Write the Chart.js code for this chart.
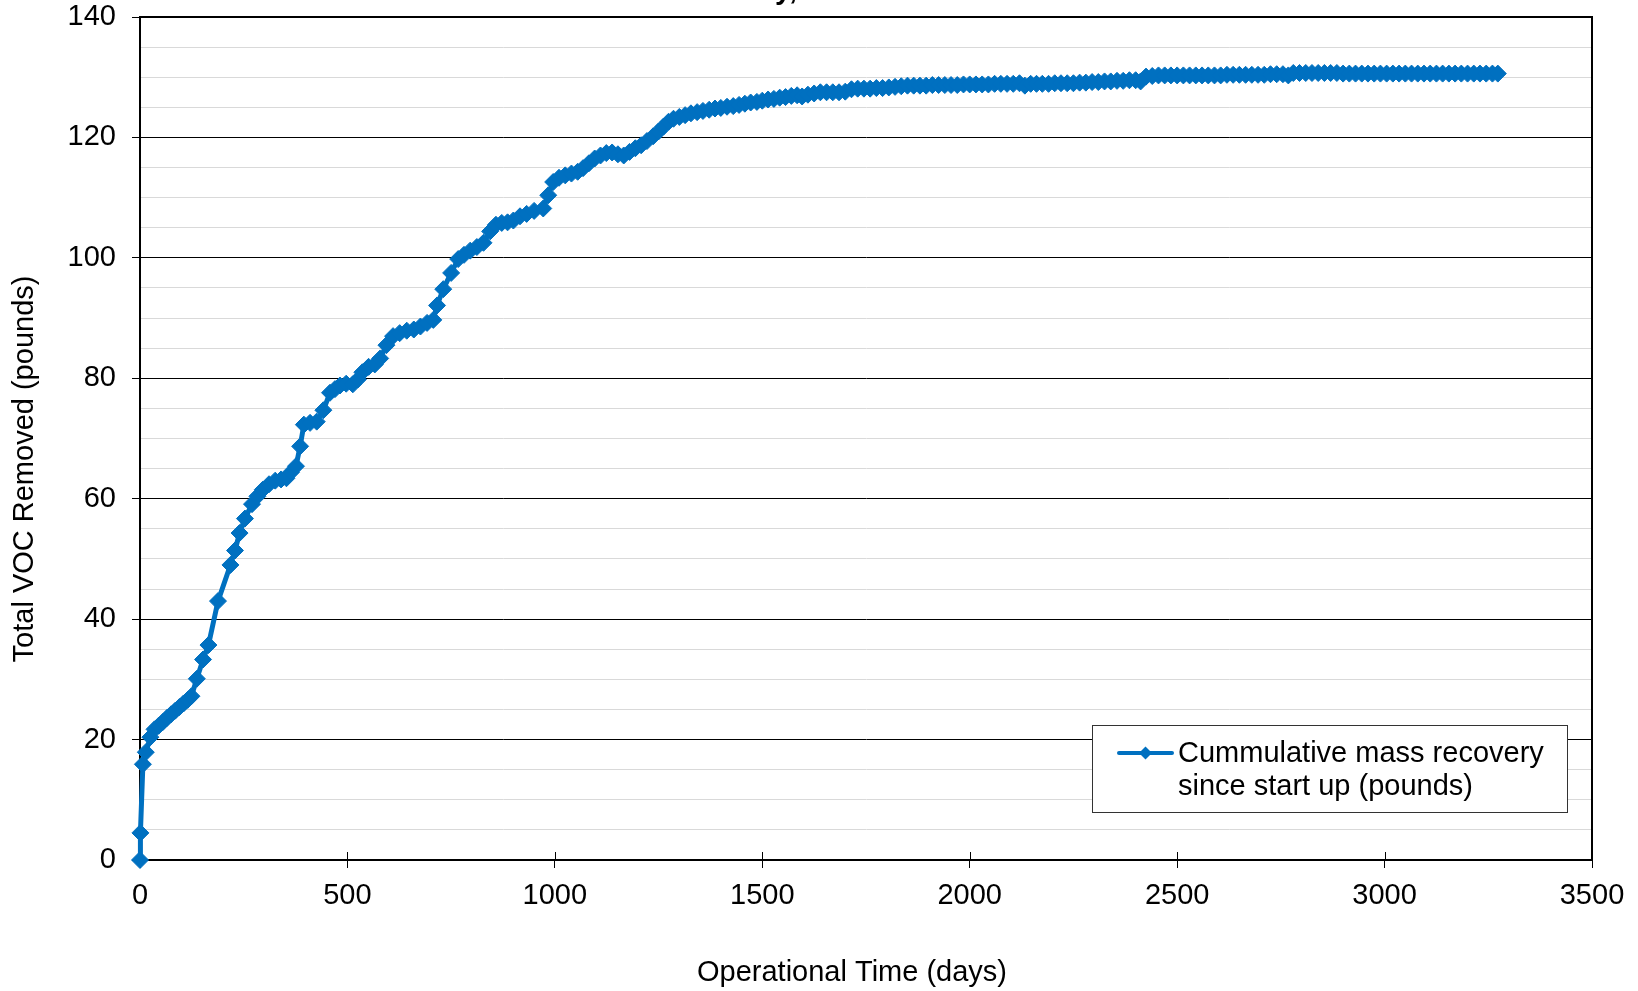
<!DOCTYPE html>
<html>
<head>
<meta charset="utf-8">
<script src="https://cdn.jsdelivr.net/npm/chart.js@4.4.1/dist/chart.umd.min.js"></script>
<style>
  html, body { margin: 0; padding: 0; background: #fff; }
  #wrap { width: 1638px; height: 991px; }
</style>
</head>
<body>
<div id="wrap"><canvas id="chart" width="1638" height="991"></canvas></div>
<script>
// operational time (days) and cumulative VOC removed (pounds)
const days = [
  0, 1, 7, 14, 25, 35, 45, 55, 65, 75, 85, 95, 105, 115, 124,
  137, 152, 165, 188, 218, 229, 240, 253, 270, 283, 296, 311, 326, 340, 353,
  364, 376, 386, 395, 410, 426, 442, 458, 470, 482, 497, 513, 525, 536, 551,
  566, 579, 594, 610, 626, 643, 660, 676, 692, 707, 716, 731, 750, 767, 781,
  796, 812, 828, 844, 858, 872, 886, 900, 916, 932, 950, 972, 984, 996, 1010,
  1025, 1040, 1055, 1068, 1082, 1096, 1110, 1124, 1138, 1152, 1166, 1180, 1194, 1208, 1222,
  1237, 1250, 1262, 1274, 1286, 1300, 1314, 1328, 1343, 1357, 1372, 1386, 1400, 1415, 1430,
  1444, 1458, 1472, 1487, 1500, 1514, 1528, 1542, 1556, 1570, 1584, 1596, 1610, 1625, 1640,
  1655, 1670, 1685, 1700, 1715, 1730, 1745, 1760, 1775, 1790, 1805, 1820, 1835, 1850, 1865,
  1880, 1895, 1910, 1925, 1940, 1955, 1970, 1985, 2000, 2015, 2030, 2045, 2060, 2075, 2090,
  2105, 2120, 2133, 2147, 2161, 2175, 2190, 2205, 2220, 2235, 2250, 2265, 2280, 2295, 2310,
  2325, 2340, 2355, 2370, 2385, 2400, 2412, 2425, 2440, 2455, 2470, 2485, 2500, 2515, 2530,
  2545, 2560, 2575, 2590, 2605, 2620, 2635, 2650, 2665, 2680, 2695, 2710, 2725, 2740, 2755,
  2768, 2780, 2795, 2810, 2825, 2840, 2855, 2870, 2885, 2900, 2915, 2930, 2945, 2960, 2975,
  2990, 3005, 3020, 3035, 3050, 3065, 3080, 3095, 3110, 3125, 3140, 3155, 3170, 3185, 3200,
  3215, 3230, 3245, 3260, 3273
];
const vocRemoved = [
  0, 4.5, 15.9, 17.9, 20.4, 21.7, 22.3, 22.9, 23.6, 24.2, 24.8, 25.4, 26.0, 26.6, 27.2,
  30.1, 33.3, 35.7, 43.0, 49.0, 51.4, 54.3, 56.7, 59.1, 60.4, 61.5, 62.4, 63.0, 63.2, 63.4,
  64.4, 65.4, 68.7, 72.3, 72.6, 72.8, 74.7, 77.6, 78.2, 78.8, 79.1, 79.0, 79.8, 81.0, 81.9,
  82.3, 83.3, 85.5, 87.0, 87.5, 87.9, 88.1, 88.6, 89.2, 89.7, 92.1, 94.8, 97.5, 99.8, 100.5,
  101.2, 101.8, 102.5, 104.4, 105.5, 105.8, 105.9, 106.2, 106.9, 107.3, 107.8, 108.2, 110.4, 112.6, 113.3,
  113.7, 114.0, 114.3, 114.9, 115.7, 116.5, 117.0, 117.4, 117.5, 117.2, 117.0, 117.6, 118.2, 118.7, 119.4,
  120.2, 121.0, 121.8, 122.6, 123.1, 123.4, 123.7, 124.0, 124.2, 124.4, 124.6, 124.8, 124.9, 125.1, 125.2,
  125.4, 125.6, 125.8, 125.9, 126.1, 126.3, 126.4, 126.6, 126.7, 126.9, 127.0, 126.8, 127.1, 127.3, 127.5,
  127.5, 127.5, 127.5, 127.6, 128.0, 128.1, 128.1, 128.1, 128.2, 128.2, 128.3, 128.4, 128.5, 128.6, 128.6,
  128.6, 128.6, 128.7, 128.7, 128.7, 128.7, 128.7, 128.8, 128.8, 128.8, 128.8, 128.8, 128.9, 128.9, 128.9,
  128.9, 129.0, 128.6, 128.9, 128.9, 128.9, 128.9, 129.0, 129.0, 129.0, 129.0, 129.1, 129.1, 129.2, 129.2,
  129.3, 129.3, 129.4, 129.4, 129.5, 129.5, 129.3, 130.1, 130.2, 130.3, 130.3, 130.3, 130.3, 130.3, 130.3,
  130.3, 130.3, 130.3, 130.3, 130.3, 130.4, 130.4, 130.4, 130.4, 130.4, 130.4, 130.4, 130.5, 130.5, 130.5,
  130.3, 130.7, 130.7, 130.7, 130.7, 130.7, 130.7, 130.7, 130.7, 130.6, 130.6, 130.6, 130.6, 130.6, 130.6,
  130.6, 130.6, 130.6, 130.6, 130.6, 130.6, 130.6, 130.6, 130.6, 130.6, 130.6, 130.6, 130.6, 130.6, 130.6,
  130.6, 130.6, 130.6, 130.6, 130.6
];
const legendLines = ["Cummulative mass recovery", "since start up (pounds)"];
const xTitle = "Operational Time (days)";
const yTitle = "Total VOC Removed (pounds)";
const chartTitle = "Total VOC Mass Recovery,";

const BLUE = "#0070C0";
const FONT = "'Liberation Sans', Arial, sans-serif";
const FS = 29;

// titles, legend box, top/right frame and the inner half of the x tick marks
const extras = {
  id: "extras",
  beforeDatasetsDraw(chart) {
    const { ctx, chartArea: a, scales: { x } } = chart;
    ctx.save();
    ctx.strokeStyle = "#000";
    ctx.lineWidth = 1;
    x.ticks.forEach((t, i) => {
      if (i === 0 || i === x.ticks.length - 1) return;
      const px = Math.round(x.getPixelForValue(t.value)) + 0.5;
      ctx.beginPath();
      ctx.moveTo(px, a.bottom - 8);
      ctx.lineTo(px, a.bottom);
      ctx.stroke();
    });
    ctx.lineWidth = 2;
    ctx.beginPath();
    ctx.moveTo(a.left, a.top);
    ctx.lineTo(a.right, a.top);
    ctx.lineTo(a.right, a.bottom);
    ctx.stroke();
    ctx.restore();
  },
  afterDatasetsDraw(chart) {
    const { ctx } = chart;
    ctx.save();
    // legend
    const bx = 1092, by = 725, bw = 475, bh = 87;
    ctx.fillStyle = "#fff";
    ctx.fillRect(bx, by, bw, bh);
    ctx.strokeStyle = "#333";
    ctx.lineWidth = 1;
    ctx.strokeRect(bx + 0.5, by + 0.5, bw, bh);
    ctx.strokeStyle = BLUE;
    ctx.lineWidth = 4;
    ctx.lineCap = "round";
    ctx.beginPath();
    ctx.moveTo(1119, 753);
    ctx.lineTo(1172, 753);
    ctx.stroke();
    ctx.fillStyle = BLUE;
    ctx.beginPath();
    ctx.moveTo(1139, 753);
    ctx.lineTo(1145.5, 746.5);
    ctx.lineTo(1152, 753);
    ctx.lineTo(1145.5, 759.5);
    ctx.closePath();
    ctx.fill();
    ctx.fillStyle = "#000";
    ctx.font = FS + "px " + FONT;
    ctx.textAlign = "left";
    ctx.textBaseline = "alphabetic";
    ctx.fillText(legendLines[0], 1178, 762);
    ctx.fillText(legendLines[1], 1178, 795);
    ctx.restore();
  },
  afterDraw(chart) {
    const { ctx } = chart;
    ctx.save();
    ctx.fillStyle = "#000";
    ctx.font = FS + "px " + FONT;
    ctx.textAlign = "center";
    ctx.textBaseline = "middle";
    ctx.fillText(xTitle, 852, 973);
    ctx.translate(25, 469);
    ctx.rotate(-Math.PI / 2);
    ctx.fillText(yTitle, 0, 0);
    ctx.restore();
    // chart title, mostly above the visible area
    ctx.save();
    ctx.fillStyle = "#000";
    ctx.font = "bold " + FS + "px " + FONT;
    ctx.textAlign = "right";
    ctx.textBaseline = "alphabetic";
    ctx.fillText(chartTitle, 797, -1);
    ctx.restore();
  }
};

new Chart(document.getElementById("chart"), {
  type: "line",
  data: {
    datasets: [{
      label: legendLines.join(" "),
      data: days.map((d, i) => ({ x: d, y: vocRemoved[i] })),
      borderColor: BLUE,
      backgroundColor: BLUE,
      borderWidth: 5,
      pointStyle: "rectRot",
      pointRadius: 8.5,
      pointBorderWidth: 1,
      pointBackgroundColor: BLUE,
      pointBorderColor: BLUE,
      tension: 0,
      clip: false
    }]
  },
  options: {
    responsive: false,
    animation: false,
    devicePixelRatio: 1,
    layout: { padding: { top: 17, right: 46, bottom: 0, left: 0 } },
    plugins: {
      legend: { display: false },
      tooltip: { enabled: false },
      title: { display: false }
    },
    scales: {
      x: {
        type: "linear",
        min: 0,
        max: 3500,
        afterFit(s) { s.height = 131; s.paddingLeft = 0; s.paddingRight = 0; },
        ticks: {
          stepSize: 500,
          padding: 11,
          color: "#000",
          autoSkip: false,
          maxRotation: 0,
          font: { family: FONT, size: FS },
          callback: (v) => String(v)
        },
        grid: { drawOnChartArea: false, tickLength: 8, color: "#000", lineWidth: 1 },
        border: { color: "#000", width: 2 }
      },
      y: {
        type: "linear",
        min: 0,
        max: 140,
        afterFit(s) { s.width = 140; s.paddingTop = 0; s.paddingBottom = 0; },
        ticks: {
          stepSize: 5,
          padding: 16,
          color: "#000",
          autoSkip: false,
          font: { family: FONT, size: FS },
          callback: (v) => (v % 20 === 0 ? String(v) : "")
        },
        grid: {
          tickLength: 8,
          lineWidth: 1,
          color: (c) => (c.tick && c.tick.value % 20 === 0 ? "#000" : "#d9d9d9"),
          tickColor: (c) => (c.tick && c.tick.value % 20 === 0 ? "#000" : "rgba(0,0,0,0)")
        },
        border: { color: "#000", width: 2 }
      }
    }
  },
  plugins: [extras]
});
</script>
</body>
</html>
